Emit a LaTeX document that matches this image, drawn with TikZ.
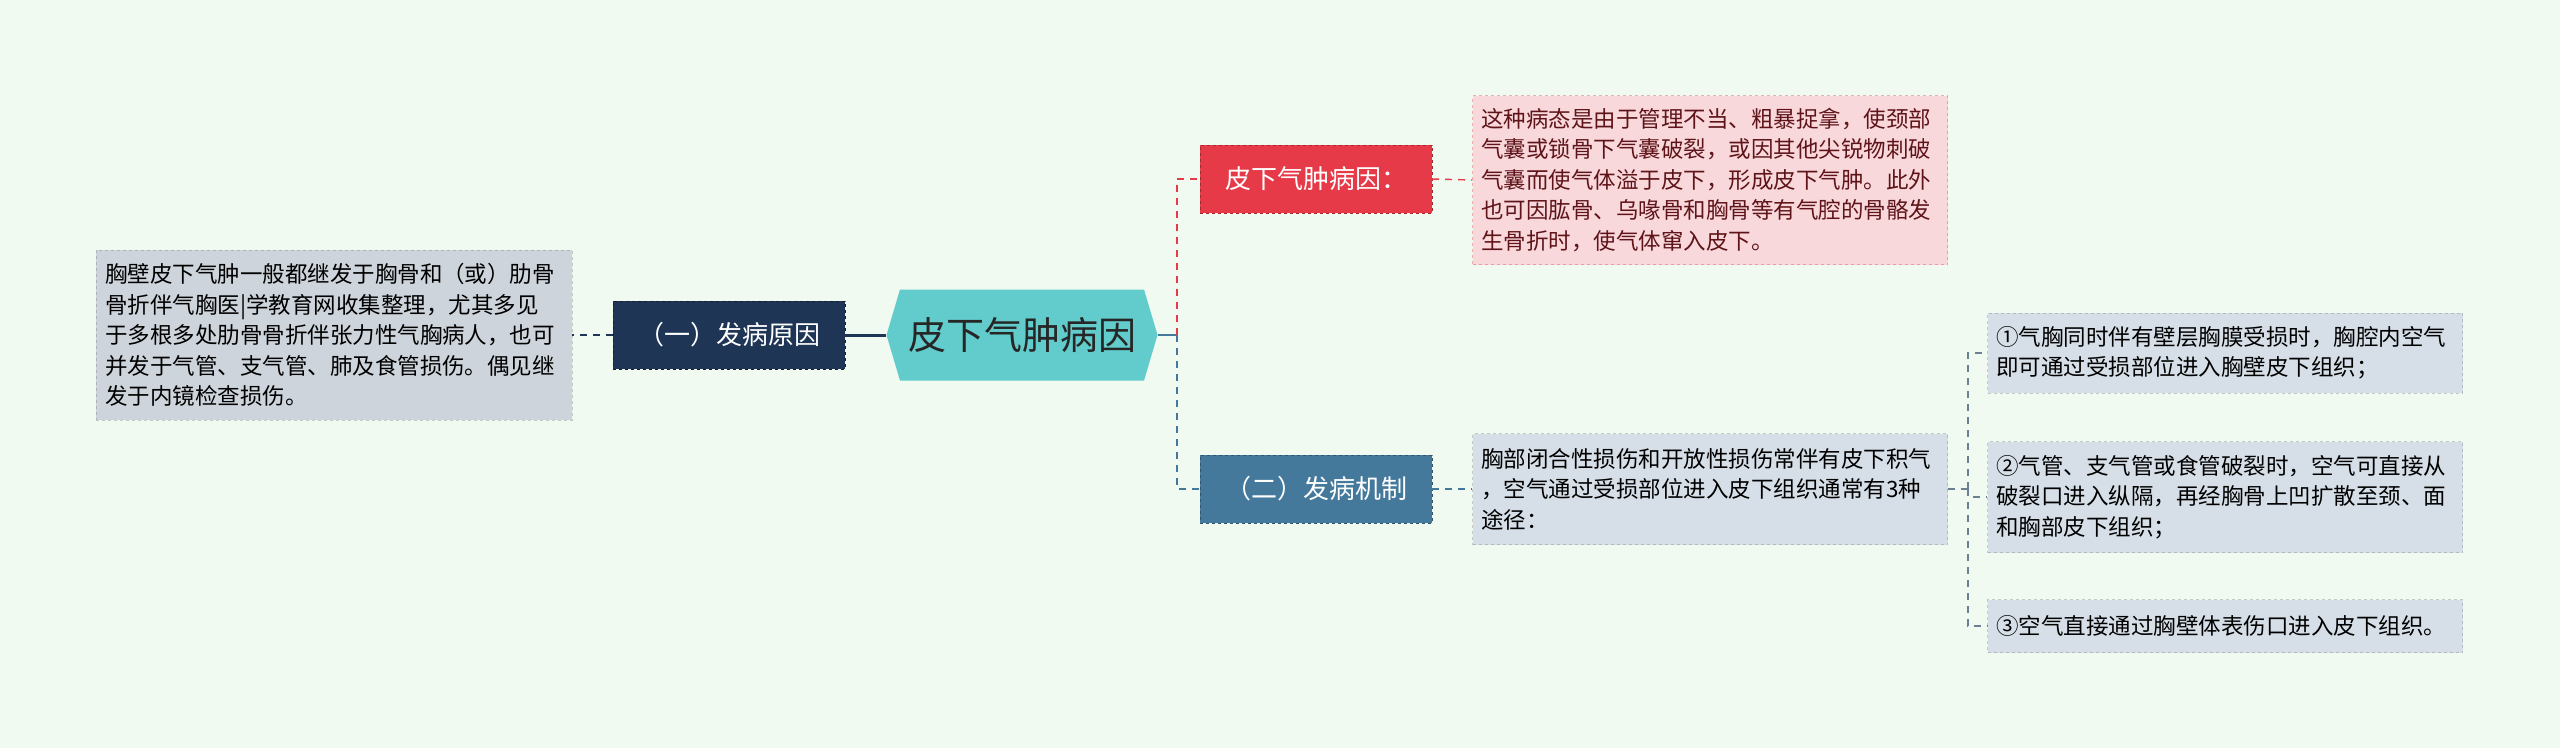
\documentclass[tikz,border=0pt]{standalone}
\usepackage{fontspec}
\setmainfont{Noto Sans CJK SC}
\usetikzlibrary{positioning, shapes.symbols}
\definecolor{bgc}{HTML}{F0FAF0}
\definecolor{rootc}{HTML}{62CBCB}
\definecolor{navyc}{HTML}{1E3556}
\definecolor{redc}{HTML}{E63A48}
\definecolor{bluec}{HTML}{44799C}
\definecolor{pinkc}{HTML}{F9D8DC}
\definecolor{wine}{HTML}{5E1418}
\definecolor{greyc}{HTML}{D6DFE7}
\definecolor{leftc}{HTML}{CED4DB}
\definecolor{linec}{HTML}{6C8094}
\begin{document}
\begin{tikzpicture}[x=1pt, y=-1pt]

  \tikzstyle{topic}=[draw, dashed, inner sep=0, minimum height=68, minimum width=232, font=\fontsize{26}{30}\selectfont]
  \tikzstyle{note}=[draw, dashed, draw opacity=.4, inner sep=0, align=left, font=\fontsize{22.5}{30.5}\selectfont]
  \tikzstyle{link}=[dashed, line width=1.6, dash pattern=on 7 off 6]

  \fill [bgc] (0,0) rectangle (2560,748);

  \node [signal, signal to=west and east, signal pointer angle=147, fill=rootc, inner sep=0,
    minimum width=271, minimum height=91, font=\fontsize{38}{42}\selectfont, text=black!85] (root) at (1022,335) {皮下气肿病因};

  \node [topic, fill=navyc, draw=navyc!60!black, text=white] (cause) at (729,335) {（一）发病原因};
  \node [topic, fill=redc, draw=redc!70!black, text=white] (why) at (1316,179) {皮下气肿病因：};
  \node [topic, fill=bluec, draw=bluec!70!black, text=white] (mech) at (1316,489) {（二）发病机制};

  \node [note, fill=leftc, draw=gray, minimum width=476, minimum height=170, text width=458] (wall) at (334,335) {
    胸壁皮下气肿一般都继发于胸骨和（或）肋骨\\
    骨折伴气胸医|学教育网收集整理，尤其多见\\
    于多根多处肋骨骨折伴张力性气胸病人，也可\\
    并发于气管、支气管、肺及食管损伤。偶见继\\
    发于内镜检查损伤。};

  \node [note, fill=pinkc, draw=redc, text=wine, minimum width=475, minimum height=169, text width=458] (neck) at (1710,180) {
    这种病态是由于管理不当、粗暴捉拿，使颈部\\
    气囊或锁骨下气囊破裂，或因其他尖锐物刺破\\
    气囊而使气体溢于皮下，形成皮下气肿。此外\\
    也可因肱骨、乌喙骨和胸骨等有气腔的骨骼发\\
    生骨折时，使气体窜入皮下。};

  \node [note, fill=greyc, draw=gray, minimum width=475, minimum height=111, text width=458] (route) at (1710,489) {
    胸部闭合性损伤和开放性损伤常伴有皮下积气\\
    ，空气通过受损部位进入皮下组织通常有3种\\
    途径：};

  \node [note, fill=greyc, draw=gray, minimum width=475, minimum height=80, text width=458] (r-1) at (2225,353) {
    ①气胸同时伴有壁层胸膜受损时，胸腔内空气\\
    即可通过受损部位进入胸壁皮下组织；};
  \node [note, fill=greyc, draw=gray, minimum width=475, minimum height=111, text width=458] (r-2) at (2225,497) {
    ②气管、支气管或食管破裂时，空气可直接从\\
    破裂口进入纵隔，再经胸骨上凹扩散至颈、面\\
    和胸部皮下组织；};
  \node [note, fill=greyc, draw=gray, minimum width=475, minimum height=53, text width=458] (r-3) at (2225,626) {
    ③空气直接通过胸壁体表伤口进入皮下组织。};

  \coordinate (fork) at (1177,335);
  \coordinate (fork-r) at (1968,489);

  \draw [line width=3, navyc] (root.west) -- (cause.east);
  \draw [link, line width=1.4, navyc] (cause.west) -- (wall.east);
  \draw [line width=2.4, bluec] (root.east) -- (fork);
  \draw [link, redc] (fork) |- (why.west);
  \draw [link, bluec] (fork) |- (mech.west);
  \draw [link, line width=1.4, redc] (why.east) -- (neck.west);
  \draw [link, line width=1.4, bluec] (mech.east) -- (route.west);
  \draw [link, line width=1.2, linec] (route.east) -- (fork-r);
  \foreach \k in {1,2,3}
    \draw [link, line width=1.2, linec] (fork-r) |- (r-\k.west);

\end{tikzpicture}
\end{document}
